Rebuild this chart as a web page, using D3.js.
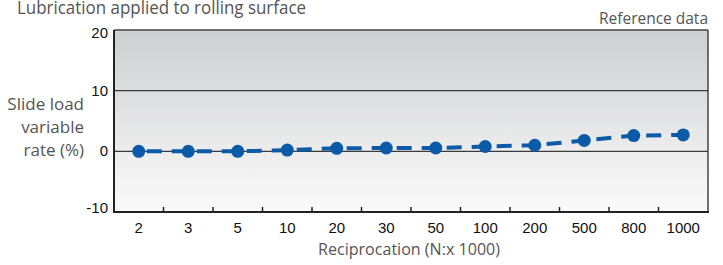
<!DOCTYPE html>
<html>
<head>
<meta charset="utf-8">
<script src="https://cdnjs.cloudflare.com/ajax/libs/d3/7.8.5/d3.min.js"></script>
<style>
  body { margin: 0; background: #fff; }
</style>
</head>
<body>
<div class="chart"></div>
<script>
// data
var cycles = ["2", "3", "5", "10", "20", "30", "50", "100", "200", "500", "800", "1000"];
var rates = [0, 0, 0, 0.2, 0.5, 0.55, 0.55, 0.8, 1.0, 1.8, 2.6, 2.7];
var yTicks = [-10, 0, 10, 20];
var gridLines = [10, 0];

var W = 723, H = 265;
var pLeft = 114, pRight = 708, pTop = 30, pBottom = 212;

var svg = d3.select(".chart").append("svg")
  .attr("width", W).attr("height", H);

var x = d3.scaleBand().domain(cycles).range([pLeft, pRight]);
var y = d3.scaleLinear().domain([-10, 20]).range([pBottom, pTop]);

var defs = svg.append("defs");
var grad = defs.append("linearGradient").attr("id", "bg")
  .attr("x1", 0).attr("y1", 0).attr("x2", 0).attr("y2", 1);
grad.append("stop").attr("offset", "0%").attr("stop-color", "#cecfd1");
grad.append("stop").attr("offset", "100%").attr("stop-color", "#fbfbfb");

svg.append("rect")
  .attr("x", pLeft).attr("y", pTop)
  .attr("width", pRight - pLeft).attr("height", pBottom - pTop)
  .attr("fill", "url(#bg)");

// grid lines
svg.selectAll(".grid").data(gridLines).enter().append("line")
  .attr("x1", pLeft).attr("x2", pRight)
  .attr("y1", function(d){ return y(d); })
  .attr("y2", function(d){ return y(d); })
  .style("stroke", "#3a3a3a").style("stroke-width", 1.2);

// frame
svg.append("line").attr("x1", pLeft).attr("x2", pRight).attr("y1", pTop).attr("y2", pTop)
  .style("stroke", "#444").style("stroke-width", 1.5);
svg.append("line").attr("x1", pRight).attr("x2", pRight).attr("y1", pTop).attr("y2", pBottom)
  .style("stroke", "#444").style("stroke-width", 1.5);
svg.append("line").attr("x1", pLeft).attr("x2", pLeft).attr("y1", pTop).attr("y2", pBottom + 1)
  .style("stroke", "#222").style("stroke-width", 2);
svg.append("line").attr("x1", pLeft).attr("x2", pRight + 1).attr("y1", pBottom).attr("y2", pBottom)
  .style("stroke", "#222").style("stroke-width", 2);

// category boundary ticks
svg.selectAll(".tick").data(cycles.slice(1)).enter().append("line")
  .attr("x1", function(d){ return x(d); })
  .attr("x2", function(d){ return x(d); })
  .attr("y1", pBottom).attr("y2", pBottom - 5)
  .style("stroke", "#222").style("stroke-width", 1.5);

// y tick labels (end labels nudged inside like the original)
svg.selectAll(".ylab").data(yTicks).enter().append("text")
  .attr("x", 108)
  .attr("y", function(d){
    var off = 5;
    if (d === 20) off = 8;
    if (d === -10) off = 1;
    return y(d) + off;
  })
  .attr("text-anchor", "end")
  .style("font-family", "Liberation Sans, Arial, sans-serif")
  .style("font-size", "15px").style("fill", "#111")
  .text(function(d){ return d; });

// x tick labels
svg.selectAll(".xlab").data(cycles).enter().append("text")
  .attr("x", function(d){ return x(d) + x.bandwidth() / 2; })
  .attr("y", 233)
  .attr("text-anchor", "middle")
  .style("font-family", "Liberation Sans, Arial, sans-serif")
  .style("font-size", "15px").style("fill", "#111")
  .text(function(d){ return d; });

var labelFont = "'Open Sans', 'DejaVu Sans', sans-serif";

svg.append("text").attr("x", 17).attr("y", 14)
  .attr("textLength", 289).attr("lengthAdjust", "spacingAndGlyphs")
  .style("font-family", labelFont).style("font-size", "18px").style("fill", "#555")
  .text("Lubrication applied to rolling surface");

svg.append("text").attr("x", 708).attr("y", 24)
  .attr("text-anchor", "end")
  .attr("textLength", 109).attr("lengthAdjust", "spacingAndGlyphs")
  .style("font-family", labelFont).style("font-size", "17px").style("fill", "#555")
  .text("Reference data");

svg.append("text").attr("x", 409).attr("y", 255)
  .attr("text-anchor", "middle")
  .attr("textLength", 182).attr("lengthAdjust", "spacingAndGlyphs")
  .style("font-family", labelFont).style("font-size", "17px").style("fill", "#555")
  .text("Reciprocation (N:x 1000)");

var yTitle = ["Slide load", "variable", "rate (%)"];
svg.selectAll(".ytitle").data(yTitle).enter().append("text")
  .attr("x", 84)
  .attr("y", function(d, i){ return 110 + i * 23; })
  .attr("text-anchor", "end")
  .style("font-family", labelFont).style("font-size", "17px").style("fill", "#555")
  .text(function(d){ return d; });

// series
var line = d3.line()
  .x(function(d, i){ return x(cycles[i]) + x.bandwidth() / 2; })
  .y(function(d){ return y(d); });

svg.append("path").datum(rates)
  .attr("d", line)
  .style("fill", "none")
  .style("stroke", "#0a5aa8")
  .style("stroke-width", 4)
  .style("stroke-dasharray", "15,10")
  .style("stroke-dashoffset", -8);

svg.selectAll(".dot").data(rates).enter().append("circle")
  .attr("cx", function(d, i){ return x(cycles[i]) + x.bandwidth() / 2; })
  .attr("cy", function(d){ return y(d); })
  .attr("r", 6.5)
  .style("fill", "#0a5aa8");
</script>
</body>
</html>
